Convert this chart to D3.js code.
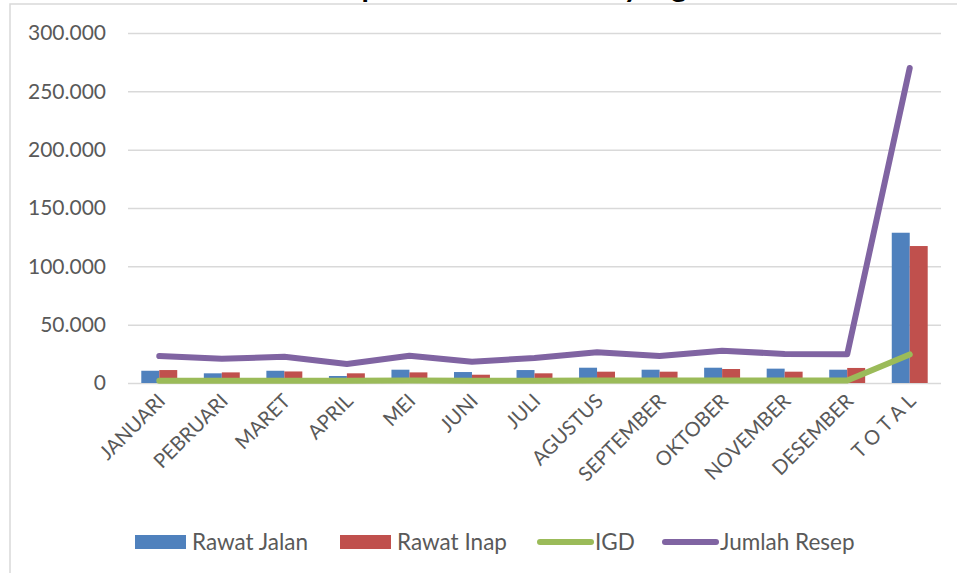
<!DOCTYPE html>
<html>
<head>
<meta charset="utf-8">
<script src="https://cdn.jsdelivr.net/npm/d3@7"></script>
<style>
  html, body { margin: 0; padding: 0; background: #fff; }
  svg { display: block; }
  text { font-family: Lato, "Open Sans", "Liberation Sans", sans-serif; }
</style>
</head>
<body>
<svg id="chart" width="957" height="573"></svg>
<script>
// Monthly prescription counts
const categories = ["JANUARI", "PEBRUARI", "MARET", "APRIL", "MEI", "JUNI", "JULI",
  "AGUSTUS", "SEPTEMBER", "OKTOBER", "NOVEMBER", "DESEMBER", "T O T A L"];
const rawatJalan = [10500, 8300, 10500, 6000, 11400, 9400, 11100, 13100, 11400, 13100, 12300, 11400, 128800];
const rawatInap  = [11100, 9100, 9900, 8300, 9100, 7100, 8300, 9700, 9700, 12000, 9700, 12900, 117400];
const igd        = [2000, 1900, 2000, 1900, 2100, 1900, 2000, 2200, 2100, 2200, 2100, 2100, 24500];
const jumlahResep = [23100, 20800, 22500, 16300, 23400, 18300, 21400, 26300, 23100, 27700, 24900, 24600, 270000];
const yTicks = [0, 50000, 100000, 150000, 200000, 250000, 300000];

const colors = { jalan: "#4F81BD", inap: "#C0504D", igd: "#9BBB59", resep: "#8064A2" };

const svg = d3.select("#chart");
const plot = { left: 128, right: 941, top: 33, bottom: 383 };

// Outer frame (only top and left edges fall inside the view)
svg.append("rect").attr("x", 10).attr("y", 4).attr("width", 960).attr("height", 580)
  .attr("fill", "#fff").attr("stroke", "#d9d9d9").attr("stroke-width", 1.5);

// Title, sitting mostly above the frame
svg.append("text").attr("x", 490).attr("y", -3).attr("text-anchor", "middle")
  .attr("font-size", 30).attr("font-weight", 700).attr("fill", "#000")
  .text("Jumlah Resep Obat Tahun 2019 yang Masuk");

const x0 = d3.scaleBand().domain(categories).range([plot.left, plot.right]).padding(0);
const x1 = d3.scaleBand().domain(["jalan", "inap"]).range([0, x0.bandwidth()])
  .paddingInner(0).paddingOuter(0.74);
const y = d3.scaleLinear().domain([0, 300000]).range([plot.bottom, plot.top]);

const locale = d3.formatLocale({ decimal: ",", thousands: ".", grouping: [3], currency: ["", ""] });
const fmt = locale.format(",");

// Gridlines + y tick labels
const yAxis = d3.axisLeft(y).tickValues(yTicks).tickSize(-(plot.right - plot.left))
  .tickPadding(22).tickFormat(fmt);
const gy = svg.append("g").attr("transform", `translate(${plot.left},0)`).call(yAxis);
gy.select(".domain").remove();
gy.selectAll(".tick line").attr("stroke", "#d9d9d9").attr("stroke-width", 1.5);
gy.selectAll(".tick text").attr("fill", "#595959").attr("font-size", 21)
  .style("font-family", "Lato, 'Open Sans', sans-serif");

// Bars
const barData = categories.map((c, i) => ({ c, jalan: rawatJalan[i], inap: rawatInap[i] }));
const groups = svg.append("g").selectAll("g").data(barData).join("g")
  .attr("transform", d => `translate(${x0(d.c)},0)`);
groups.selectAll("rect").data(d => [{ k: "jalan", v: d.jalan }, { k: "inap", v: d.inap }]).join("rect")
  .attr("x", d => x1(d.k)).attr("width", x1.bandwidth())
  .attr("y", d => y(d.v)).attr("height", d => y(0) - y(d.v))
  .attr("fill", d => colors[d.k]);

// Lines
const cx = c => x0(c) + x0.bandwidth() / 2;
const lineGen = d3.line().x(d => cx(d.c)).y(d => y(d.v));
function drawLine(values, color) {
  svg.append("path")
    .datum(categories.map((c, i) => ({ c, v: values[i] })))
    .attr("d", lineGen).attr("fill", "none").attr("stroke", color)
    .attr("stroke-width", 6).attr("stroke-linecap", "round").attr("stroke-linejoin", "round");
}
drawLine(igd, colors.igd);
drawLine(jumlahResep, colors.resep);

// Category labels, rotated
const xAxis = d3.axisBottom(x0).tickSize(0).tickPadding(0);
const gx = svg.append("g").attr("transform", `translate(0,${plot.bottom})`).call(xAxis);
gx.select(".domain").remove();
gx.selectAll(".tick text")
  .attr("fill", "#595959").attr("font-size", 20)
  .style("font-family", "Lato, 'Open Sans', sans-serif")
  .attr("text-anchor", "end")
  .attr("transform", "translate(-4,8) rotate(-45)")
  .attr("dy", "0.8em").attr("y", 0).attr("x", 0);

// Legend
const legendItems = [
  { name: "Rawat Jalan", type: "bar", color: colors.jalan, x: 135 },
  { name: "Rawat Inap", type: "bar", color: colors.inap, x: 340 },
  { name: "IGD", type: "line", color: colors.igd, x: 540 },
  { name: "Jumlah Resep", type: "line", color: colors.resep, x: 665 }
];
const ly = 542;
const lg = svg.append("g").selectAll("g").data(legendItems).join("g")
  .attr("transform", d => `translate(${d.x},${ly})`);
lg.filter(d => d.type === "bar").append("rect")
  .attr("x", 0).attr("y", -7).attr("width", 51).attr("height", 14).attr("fill", d => d.color);
lg.filter(d => d.type === "line").append("line")
  .attr("x1", 0).attr("x2", 51).attr("y1", 0).attr("y2", 0)
  .attr("stroke", d => d.color).attr("stroke-width", 6).attr("stroke-linecap", "round");
lg.append("text").attr("x", d => d.type === "bar" ? 57 : 55).attr("y", 0).attr("dy", "0.35em")
  .attr("fill", "#595959").attr("font-size", 22.5).text(d => d.name);
</script>
</body>
</html>
